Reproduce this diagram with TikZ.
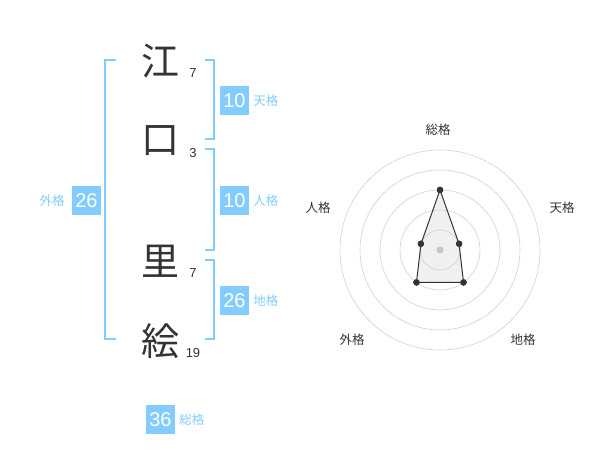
\documentclass[tikz,border=0pt]{standalone}
\usepackage{fontspec}
\setmainfont{Liberation Sans}
\newfontfamily\jpfont{Noto Sans CJK JP}
\usetikzlibrary{positioning}
\definecolor{kakublue}{RGB}{130,204,255}
\definecolor{inkgrey}{RGB}{51,51,51}

\begin{document}
\begin{tikzpicture}[
	x=1pt,y=-1pt,
	kanji/.style={font=\jpfont\fontsize{38}{38}\selectfont,text=inkgrey,inner sep=0pt},
	strokes/.style={font=\fontsize{13}{13}\selectfont,text=inkgrey,inner sep=0pt},
	numbox/.style={fill=kakublue,text=white,minimum width=29pt,minimum height=29pt,inner sep=0pt,font=\fontsize{20}{20}\selectfont},
	kaku/.style={font=\jpfont\fontsize{12.5}{12.5}\selectfont,text=kakublue,inner sep=0pt},
	bracket/.style={draw=kakublue,line width=2pt},
	ring/.style={draw=black!18,line width=0.6pt},
	axislabel/.style={font=\jpfont\fontsize{12.5}{12.5}\selectfont,text=inkgrey,inner sep=0pt},
	dot/.style={circle,fill=inkgrey,inner sep=0pt,minimum size=6.5pt}
	]
	\useasboundingbox (0,0) rectangle (600,470);
	% name
	\node[kanji] (k1) at (160,61) {江};
	\node[kanji] (k2) at (160,141) {口};
	\node[kanji] (k3) at (160,261) {里};
	\node[kanji] (k4) at (160,341) {絵};
	\node[strokes] (s1) at (193,73) {7};
	\node[strokes] (s2) at (193,153) {3};
	\node[strokes] (s3) at (193,273) {7};
	\node[strokes] (s4) at (193,353) {19};
	% brackets
	\draw[bracket] (116,60) -- (105,60) -- (105,339) -- (116,339);
	\draw[bracket] (205,60) -- (214,60) -- (214,139) -- (205,139);
	\draw[bracket] (205,149) -- (214,149) -- (214,250) -- (205,250);
	\draw[bracket] (205,260) -- (214,260) -- (214,339) -- (205,339);
	% scores
	\node[numbox] (ten) at (234.5,100.5) {10};
	\node[kaku,right=4pt of ten] {天格};
	\node[numbox] (jin) at (234.5,200.5) {10};
	\node[kaku,right=4pt of jin] {人格};
	\node[numbox] (chi) at (234.5,300.5) {26};
	\node[kaku,right=4pt of chi] {地格};
	\node[numbox] (gai) at (86.5,200.5) {26};
	\node[kaku,left=7pt of gai] {外格};
	\node[numbox] (sou) at (160.5,419.5) {36};
	\node[kaku,right=4pt of sou] {総格};
	% radar
	\coordinate (ctr) at (440,250);
	\node[dot] (psou) at ([shift={(-90:60)}]ctr) {};
	\node[dot] (pten) at ([shift={(-18:20)}]ctr) {};
	\node[dot] (pchi) at ([shift={(54:40)}]ctr) {};
	\node[dot] (pgai) at ([shift={(126:40)}]ctr) {};
	\node[dot] (pjin) at ([shift={(198:20)}]ctr) {};
	\fill[black!6] (psou.center) -- (pten.center) -- (pchi.center) -- (pgai.center) -- (pjin.center) -- cycle;
	\foreach \r in {20,40,...,100}
		\draw[ring] (ctr) circle (\r);
	\fill[black!22] (ctr) circle (3.5);
	\draw[inkgrey,line width=1pt] (psou.center) -- (pten.center) -- (pchi.center) -- (pgai.center) -- (pjin.center) -- cycle;
	\foreach \p in {psou,pten,pchi,pgai,pjin}
		\fill[inkgrey] (\p) circle (3.25);
	\node[axislabel] at (438,130) {総格};
	\node[axislabel] at (562,208) {天格};
	\node[axislabel] at (523,340) {地格};
	\node[axislabel] at (352,340) {外格};
	\node[axislabel] at (318,208) {人格};
\end{tikzpicture}
\end{document}
